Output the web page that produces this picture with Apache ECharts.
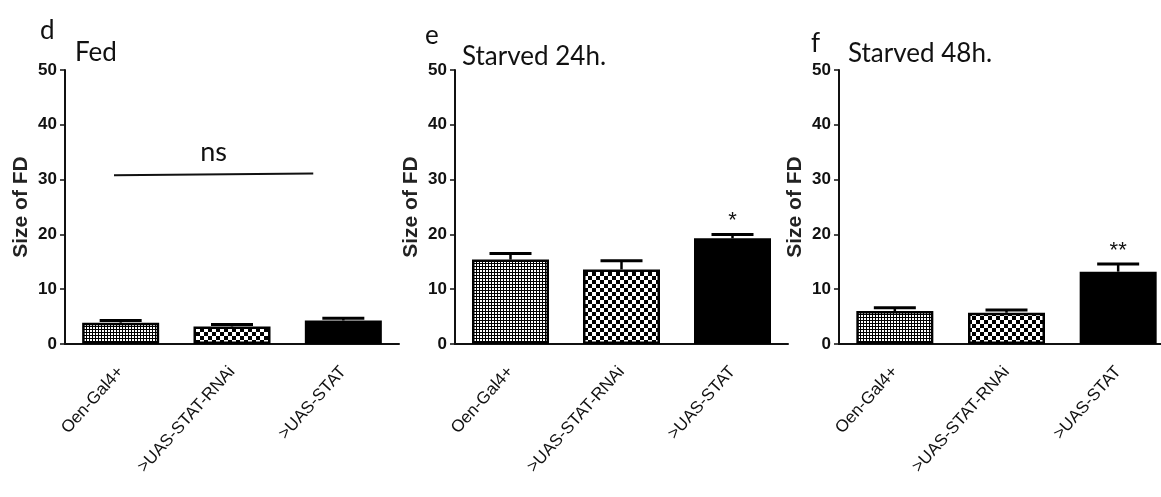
<!DOCTYPE html>
<html>
<head>
<meta charset="utf-8">
<script src="https://cdn.jsdelivr.net/npm/echarts@6/dist/echarts.min.js"></script>
<style>
  html, body { margin: 0; padding: 0; background: #fff; }
  #chart { width: 1161px; height: 497px; }
</style>
</head>
<body>
<div id="chart"></div>
<script>
// ---------------- data ----------------
const categories = ['Oen-Gal4+', '>UAS-STAT-RNAi', '>UAS-STAT'];
const panelLetters = ['d', 'e', 'f'];
const panelTitles = ['Fed', 'Starved 24h.', 'Starved 48h.'];
const yAxisTitle = 'Size of FD';
const yMin = 0, yMax = 50, yInterval = 10;

const fedMean = [3.9, 3.2, 4.3];
const fedErr = [0.4, 0.35, 0.4];
const starved24Mean = [15.4, 13.6, 19.3];
const starved24Err = [1.1, 1.6, 0.7];
const starved48Mean = [6.0, 5.7, 13.2];
const starved48Err = [0.6, 0.5, 1.4];

// significance: [panelIndex, categoryIndex, label]
const sigMarks = [[1, 2, '*'], [2, 2, '**']];
// "ns" comparison line in panel d: [xStart, yStart], [xEnd, yEnd] (x in category-index units)
const nsLine = [[-0.06, 30.8], [1.73, 31.1]];
const nsLabel = 'ns';

// ---------------- patterns ----------------
function makeFinePattern() {
  const c = document.createElement('canvas');
  c.width = 3; c.height = 3;
  const g = c.getContext('2d');
  g.fillStyle = '#fff'; g.fillRect(0, 0, 3, 3);
  g.fillStyle = '#000';
  g.fillRect(2, 0, 1, 3);
  g.fillRect(0, 2, 3, 1);
  return c;
}
function makeCheckPattern() {
  const c = document.createElement('canvas');
  c.width = 8; c.height = 8;
  const g = c.getContext('2d');
  g.fillStyle = '#fff'; g.fillRect(0, 0, 8, 8);
  g.fillStyle = '#000';
  g.fillRect(0, 0, 4, 4);
  g.fillRect(4, 4, 4, 4);
  return c;
}
const fills = [
  { image: makeFinePattern(), repeat: 'repeat' },
  { image: makeCheckPattern(), repeat: 'repeat' },
  '#000'
];

const means = [fedMean, starved24Mean, starved48Mean];
const errs = [fedErr, starved24Err, starved48Err];

const grids = [
  { left: 65, top: 70, width: 334, height: 274 },
  { left: 455, top: 70, width: 333, height: 274 },
  { left: 839, top: 70, width: 335, height: 274 }
];

const chart = echarts.init(document.getElementById('chart'));
const FONT = 'Liberation Sans, Arial, sans-serif';
const TFONT = 'Lato, Open Sans, sans-serif';

const xAxes = [], yAxes = [], series = [];
grids.forEach((g, p) => {
  xAxes.push({
    gridIndex: p, type: 'category', data: categories, boundaryGap: true,
    axisLine: { onZero: false, lineStyle: { color: '#111', width: 2 } },
    axisTick: { alignWithLabel: true, length: 9, lineStyle: { color: '#111', width: 1.5 } },
    axisLabel: { rotate: 48, margin: 25, fontSize: 17, color: '#111',
                 fontFamily: FONT, interval: 0 }
  });
  yAxes.push({
    gridIndex: p, type: 'value', min: yMin, max: yMax, interval: yInterval,
    axisLine: { show: true, onZero: false, lineStyle: { color: '#111', width: 2 } },
    axisTick: { show: true, length: 5, lineStyle: { color: '#111', width: 1.5 } },
    splitLine: { show: false },
    axisLabel: { fontSize: 17, fontWeight: 'bold', color: '#111', margin: 8, fontFamily: FONT },
    name: yAxisTitle, nameLocation: 'middle', nameRotate: 90, nameGap: 33,
    nameTextStyle: { fontSize: 21, fontWeight: 'bold', color: '#222', fontFamily: FONT }
  });
  series.push({
    type: 'bar', xAxisIndex: p, yAxisIndex: p, barWidth: 77, z: 2,
    data: means[p].map((v, i) => ({
      value: v,
      itemStyle: { color: fills[i], borderColor: '#000', borderWidth: 2.5 }
    })),
    animation: false
  });
  series.push({
    type: 'custom', xAxisIndex: p, yAxisIndex: p, z: 3,
    data: means[p].map((v, i) => [i, v, errs[p][i]]),
    renderItem: function (params, api) {
      const x = api.value(0), m = api.value(1), e = api.value(2);
      const base = api.coord([x, m]);
      const top = api.coord([x, m + e]);
      return {
        type: 'group',
        children: [
          { type: 'line', shape: { x1: base[0], y1: base[1], x2: top[0], y2: top[1] },
            style: { stroke: '#000', lineWidth: 2.5 } },
          { type: 'line', shape: { x1: top[0] - 21, y1: top[1], x2: top[0] + 21, y2: top[1] },
            style: { stroke: '#000', lineWidth: 3 } }
        ]
      };
    },
    animation: false
  });
});

// hidden continuous x axis over panel d for the "ns" comparison line
xAxes.push({ gridIndex: 0, type: 'value', min: -0.5, max: categories.length - 0.5, show: false,
             axisLine: { onZero: false } });
const nsAxis = xAxes.length - 1;

// significance stars
sigMarks.forEach(([p, i, label]) => {
  series.push({
    type: 'custom', xAxisIndex: p, yAxisIndex: p, z: 4,
    data: [[i, means[p][i] + errs[p][i]]],
    renderItem: function (params, api) {
      const pt = api.coord([api.value(0), api.value(1)]);
      return {
        type: 'text',
        style: { text: label, x: pt[0], y: pt[1] - 2, align: 'center', verticalAlign: 'bottom',
                 fontSize: 22, fill: '#111', fontFamily: FONT }
      };
    },
    animation: false
  });
});

// ns line in panel d
series.push({
  type: 'custom', xAxisIndex: nsAxis, yAxisIndex: 0, z: 4,
  data: [[nsLine[0][0], nsLine[0][1], nsLine[1][0], nsLine[1][1]]],
  encode: { x: [0, 2], y: [1, 3] },
  renderItem: function (params, api) {
    const a = api.coord([api.value(0), api.value(1)]);
    const b = api.coord([api.value(2), api.value(3)]);
    return {
      type: 'group',
      children: [
        { type: 'line', shape: { x1: a[0], y1: a[1], x2: b[0], y2: b[1] },
          style: { stroke: '#111', lineWidth: 2 } },
        { type: 'text', style: { text: nsLabel, x: (a[0] + b[0]) / 2, y: (a[1] + b[1]) / 2 - 22,
          align: 'center', verticalAlign: 'middle', fontSize: 27, fill: '#111', fontFamily: TFONT } }
      ]
    };
  },
  animation: false
});

// panel letters & titles
const letterPos = [[40, 31], [425, 36], [811, 44]];
const titlePos = [[75, 54], [462, 58], [848, 55]];
const graphics = [];
panelLetters.forEach((t, p) => {
  graphics.push({ type: 'text', left: letterPos[p][0], top: letterPos[p][1] - 13,
    style: { text: t, fontSize: 26, fill: '#111', fontFamily: TFONT } });
  graphics.push({ type: 'text', left: titlePos[p][0], top: titlePos[p][1] - 14,
    style: { text: panelTitles[p], fontSize: 26, fill: '#111', fontFamily: TFONT } });
});

chart.setOption({
  animation: false,
  backgroundColor: '#fff',
  grid: grids.map(g => Object.assign({ containLabel: false, outerBoundsMode: 'none' }, g)),
  xAxis: xAxes,
  yAxis: yAxes,
  series: series,
  graphic: graphics
});
</script>
</body>
</html>
